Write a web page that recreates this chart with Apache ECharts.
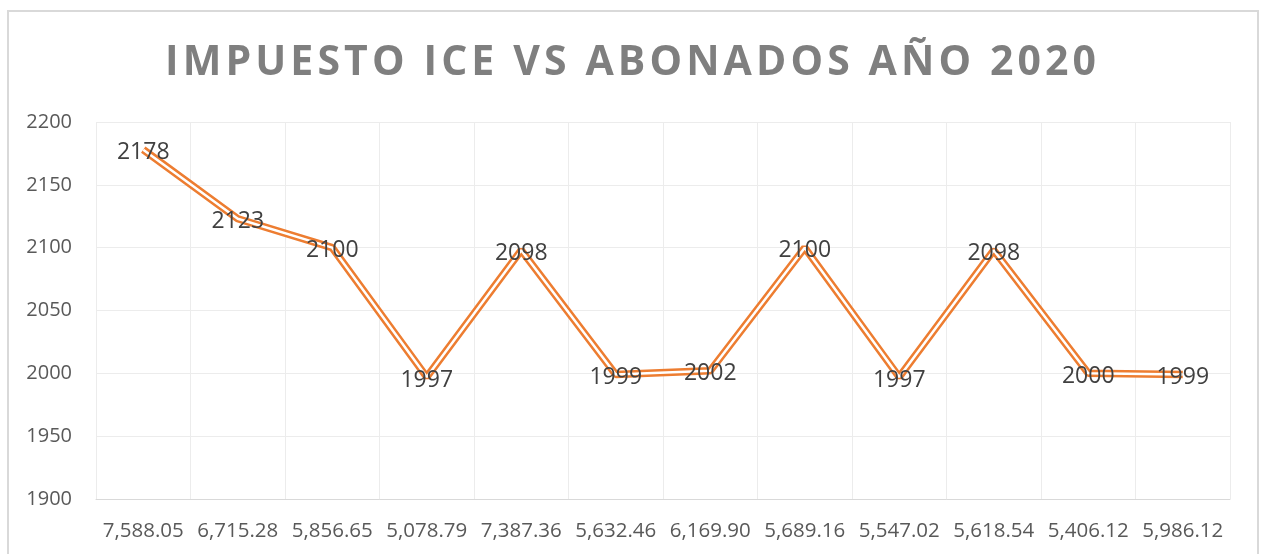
<!DOCTYPE html>
<html>
<head>
<meta charset="utf-8">
<script src="https://cdn.jsdelivr.net/npm/echarts@6/dist/echarts.min.js"></script>
<style>
  html, body { margin: 0; padding: 0; background: #fff; }
  #chart { width: 1261px; height: 554px; }
</style>
</head>
<body>
<div id="chart"></div>
<script>
const TITLE = "IMPUESTO ICE VS ABONADOS AÑO 2020"
const CATEGORIES = ["7,588.05", "6,715.28", "5,856.65", "5,078.79", "7,387.36", "5,632.46",
    "6,169.90", "5,689.16", "5,547.02", "5,618.54", "5,406.12", "5,986.12"]
const ABONADOS = [2178, 2123, 2100, 1997, 2098, 1999, 2002, 2100, 1997, 2098, 2000, 1999]
const Y_MIN = 1900, Y_MAX = 2200, Y_STEP = 50

const FONT = "Open Sans"
const chart = echarts.init(document.getElementById("chart"))

chart.setOption({
    animation: false,
    title: {
        text: TITLE.split("").join("\u200A"),
        left: "center",
        top: 38,
        textStyle: { fontFamily: FONT, fontSize: 41, fontWeight: "bold", color: "#7f7f7f" }
    },
    graphic: [{
        type: "rect", silent: true,
        shape: { x: 8, y: 11, width: 1250, height: 560 },
        style: { fill: "none", stroke: "#d9d9d9", lineWidth: 2 }
    }],
    grid: { left: 96, right: 31, top: 122, bottom: 55, containLabel: false },
    xAxis: {
        type: "category",
        data: CATEGORIES,
        boundaryGap: true,
        axisLine: { lineStyle: { color: "#d9d9d9" } },
        axisTick: { show: false },
        splitLine: { show: true, lineStyle: { color: "#ececec", width: 1 } },
        axisLabel: { fontFamily: FONT, fontSize: 20.5, color: "#595959", margin: 22, interval: 0 }
    },
    yAxis: {
        type: "value",
        min: Y_MIN, max: Y_MAX, interval: Y_STEP,
        axisLine: { show: false },
        axisTick: { show: false },
        splitLine: { lineStyle: { color: "#ececec", width: 1 } },
        axisLabel: { fontFamily: FONT, fontSize: 20, color: "#595959", margin: 24, formatter: v => String(v) }
    },
    series: [{
        type: "line",
        data: ABONADOS,
        symbol: "none",
        lineStyle: { color: "#ed7d31", width: 7.5 },
        label: { show: false },
        z: 2
    }, {
        // white core of the double line; carries the data labels so they sit on top
        type: "line",
        data: ABONADOS,
        symbol: "circle",
        symbolSize: 1,
        showSymbol: true,
        itemStyle: { color: "rgba(0,0,0,0)" },
        lineStyle: { color: "#ffffff", width: 2.5 },
        label: {
            show: true, position: "inside", offset: [0, 3],
            fontFamily: FONT, fontSize: 23, color: "#404040"
        },
        z: 3
    }]
})
</script>
</body>
</html>
